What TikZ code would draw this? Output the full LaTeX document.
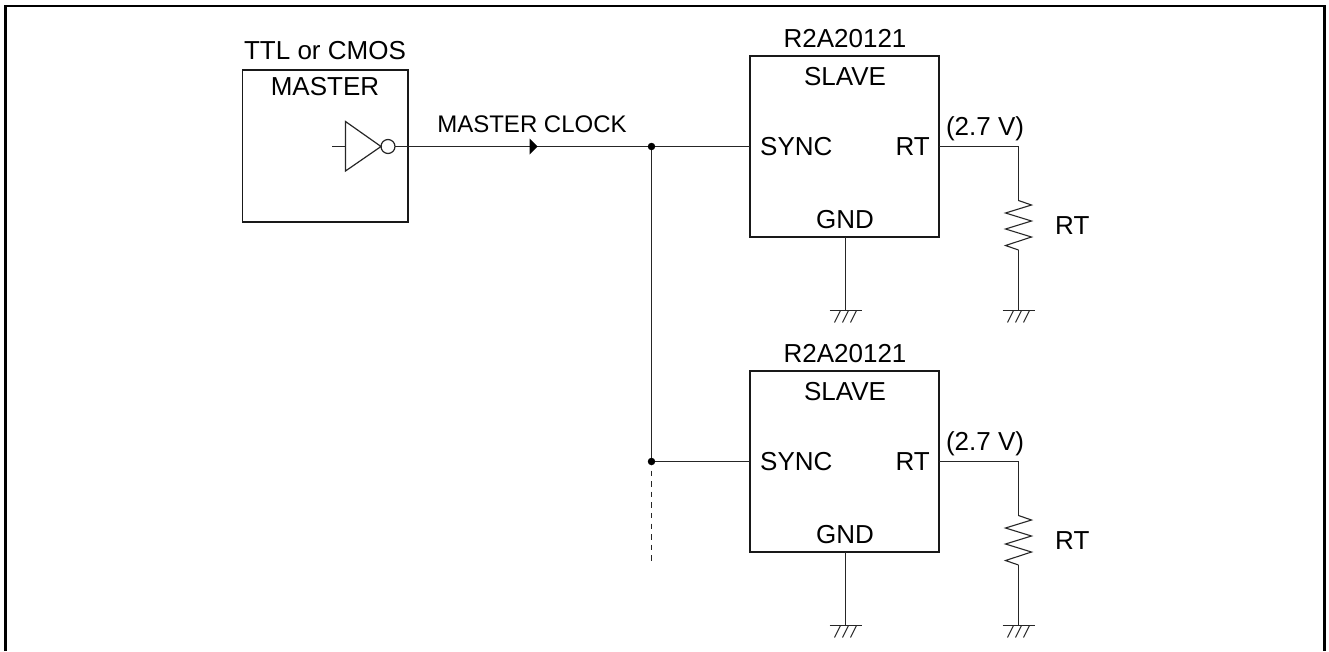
\documentclass[tikz,border=0pt]{standalone}
\usepackage{fontspec}
\setmainfont{Liberation Sans}
\usetikzlibrary{arrows.meta,calc}
\newcommand{\fa}{\fontsize{26}{28}\selectfont}
\newcommand{\fb}{\fontsize{24}{26}\selectfont}
\tikzset{
  wire/.style={line width=0.95pt,draw=black!85},
  boxed/.style={draw=black!90,line width=1.6pt,fill=none,inner sep=0pt,outer sep=0pt},
  lab/.style={inner sep=0pt,anchor=base,font=\fa},
  labl/.style={inner sep=0pt,anchor=base west,font=\fa},
  labr/.style={inner sep=0pt,anchor=base east,font=\fa},
  jdot/.style={circle,fill=black,inner sep=0pt,minimum size=7.5pt,outer sep=0pt},
  gndpic/.pic={\draw[wire] (-16,0) -- (16,0);
    \foreach \q in {-5,3,11} \draw[wire] (\q,0) -- (\q-6,12);},
  rpic/.pic={\draw[wire,line width=1.1pt,line join=miter] (0,0) -- (13,4.5) -- (-13,12.5) -- (13,20.5) -- (-13,28.5) -- (13,36.5) -- (-13,45) -- (0,49.5);},
}
\newcommand{\slavechip}[2]{%
  \begin{scope}[yshift=-#2pt,name prefix=#1]
    \node[boxed,minimum width=189pt,minimum height=181pt] (chip) at (844.5,146.5) {};
    \node[lab] (part) at (845,47) {R2A20121};
    \node[lab] (slave) at (845,85) {SLAVE};
    \node[labl] (sync) at (760,155) {SYNC};
    \node[labr] (rtpin) at (930,155) {RT};
    \node[lab] (gndpin) at (845,228) {GND};
    \node[lab] (volt) at (985,135) {(2.7 V)};
    \node[labl] (rtval) at (1055,234) {RT};
    \coordinate (rtin) at (chip.east |- 0,146.5);
    \coordinate (corner) at (1018.5,146.5);
    \coordinate (rtop) at (1018.5,200.5);
    \coordinate (rbot) at (1018.5,250);
    \coordinate (gnda) at (845.5,310.5);
    \coordinate (gndb) at (1018.5,310.5);
    \coordinate (gndc) at (chip.south -| gnda);
    \draw[wire] (rtin) -- (corner) -- (rtop);
    \pic at (rtop) {rpic};
    \draw[wire] (rbot) -- (gndb);
    \draw[wire] (gndc) -- (gnda);
    \pic at (gnda) {gndpic};
    \pic at (gndb) {gndpic};
    \coordinate (syncin) at (chip.west |- 0,146.5);
  \end{scope}}
\begin{document}
\begin{tikzpicture}[x=1pt,y=-1pt]
\useasboundingbox (0,0) rectangle (1329,651);
\coordinate (fbl) at (5.5,651);
\coordinate (ftl) at (5.5,6);
\coordinate (ftr) at (1324.5,6);
\coordinate (fbr) at (1324.5,651);
\draw[line width=2.2pt,line join=miter] (fbl) -- (ftl) -- (ftr) -- (fbr);
% master
\node[boxed,minimum width=165.5pt,minimum height=152pt] (master) at (325.25,146) {};
\node[lab] (ttl) at (325,59) {TTL or CMOS};
\node[lab] (mlab) at (325,95) {MASTER};
\coordinate (invin) at (332,146.5);
\coordinate (invl) at (345.5,146.5);
\draw[wire] (invin) -- (invl);
\draw[wire,line width=1.2pt,line join=miter] (345.5,121.5) coordinate (tria) -- (381,146.5) coordinate (trib) -- (345.5,171) coordinate (tric) -- cycle;
\node[circle,draw=black!85,line width=1.2pt,minimum size=14pt,inner sep=0pt,outer sep=0pt] (bub) at (388,146.5) {};
\node[inner sep=0pt,anchor=base,font=\fb] (clk) at (532,132) {MASTER CLOCK};
\slavechip{a}{0}
\slavechip{b}{315}
\coordinate (j1) at (651.5,146.5);
\coordinate (j2) at (651.5,461.5);
\coordinate (dashend) at (651.5,563);
\draw[wire] (bub.east) -- (j1) -- (asyncin);
\draw[wire] (j1) -- (j2) -- (bsyncin);
\draw[wire,dash pattern=on 5.5pt off 5.1pt] (j2) ++(0,9) coordinate (dashstart) (dashstart) -- (dashend);
\node[jdot] (dot1) at (j1) {};
\node[jdot] (dot2) at (j2) {};
\fill (529.5,138.5) coordinate (ah1) -- (537.5,146.5) coordinate (ah2) -- (529.5,154.5) coordinate (ah3) -- cycle;
\end{tikzpicture}
\end{document}
